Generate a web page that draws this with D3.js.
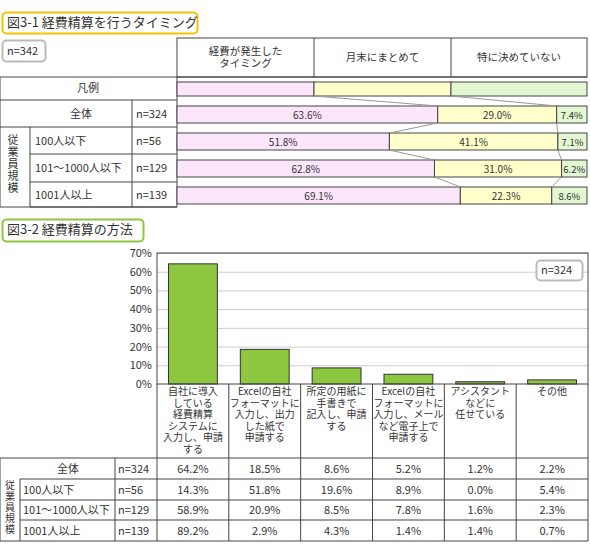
<!DOCTYPE html>
<html><head><meta charset="utf-8">
<script src="https://cdnjs.cloudflare.com/ajax/libs/d3/7.8.5/d3.min.js"></script>
<style>body{margin:0;background:#fff}text{font-family:"Noto Sans CJK JP",sans-serif;fill:#333}</style>
</head><body><svg id="c" width="590" height="547"></svg>
<script>
'use strict';
// fig 3-1
var timingCats = ['経費が発生した|タイミング', '月末にまとめて', '特に決めていない'];
var timingRows = ['全体', '100人以下', '101～1000人以下', '1001人以上'];
var timingN = ['n=324', 'n=56', 'n=129', 'n=139'];
var timingVals = [[63.6, 29.0, 7.4], [51.8, 41.1, 7.1], [62.8, 31.0, 6.2], [69.1, 22.3, 8.6]];
var timingColors = ['#fce6fc', '#ffffcc', '#e2f7d2'];
// fig 3-2
var methodCats = ['自社に導入|している|経費精算|システムに|入力し、申請|する',
  'Excelの自社|フォーマットに|入力し、出力|した紙で|申請する',
  '所定の用紙に|手書きで|記入し、申請|する',
  'Excelの自社|フォーマットに|入力し、メール|など電子上で|申請する',
  'アシスタント|などに|任せている', 'その他'];
var methodRows = ['全体', '100人以下', '101～1000人以下', '1001人以上'];
var methodN = ['n=324', 'n=56', 'n=129', 'n=139'];
var methodVals = [[64.2, 18.5, 8.6, 5.2, 1.2, 2.2], [14.3, 51.8, 19.6, 8.9, 0.0, 5.4],
  [58.9, 20.9, 8.5, 7.8, 1.6, 2.3], [89.2, 2.9, 4.3, 1.4, 1.4, 0.7]];
var yTicks = [0, 10, 20, 30, 40, 50, 60, 70];

var svg = d3.select('#c');
var line = function(x1, y1, x2, y2, c) {
  svg.append('line').attr('x1', x1).attr('y1', y1).attr('x2', x2).attr('y2', y2)
    .attr('stroke', c || '#444').attr('stroke-width', 1);
};
var txt = function(x, y, s, size, anchor) {
  return svg.append('text').attr('x', x).attr('y', y).attr('font-size', size || 11)
    .attr('text-anchor', anchor || 'middle').text(s);
};
var box = function(x, y, w, h, stroke, s, size) {
  svg.append('rect').attr('x', x + 0.5).attr('y', y + 0.5).attr('width', w).attr('height', h)
    .attr('rx', 4).attr('fill', '#fff').attr('stroke', stroke).attr('stroke-width', 2);
  txt(x + 5, y + h / 2 + 4, s, size || 12, 'start');
};
var vtext = function(x, y, s, step, size) {
  s.split('').forEach((ch, i) => txt(x, y + i * step, ch, size));
};

// ---- top chart
box(2, 12, 195, 21, '#f5c400', '図3-1 経費精算を行うタイミング', 13);
box(2, 40, 43, 21, '#bbb', 'n=342', 11);

var x0 = 177, x1 = 587;
var xs = d3.scaleLinear().domain([0, 100]).range([x0, x1]);
var hdrX = [177, 314, 451, 587];
svg.append('rect').attr('x', x0).attr('y', 38).attr('width', x1 - x0).attr('height', 39)
  .attr('fill', 'none').attr('stroke', '#444');
timingCats.forEach((c, i) => {
  if (i > 0) line(hdrX[i], 38, hdrX[i], 77);
  var parts = c.split('|');
  parts.forEach((p, j) => txt((hdrX[i] + hdrX[i + 1]) / 2, 57 + (j - (parts.length - 1) / 2) * 12 + 4, p, 10.5));
});
// left table
var rowY = [100, 127, 154, 182, 207];
line(0, 77, 587, 77);
line(0, 100, 177, 100);
line(0, 77, 0, 207); line(177, 77, 177, 207);
txt(88, 92, '凡例', 11);
for (var i = 0; i < 4; i++) {
  line(i === 0 ? 0 : 30, rowY[i + 1], 177, rowY[i + 1]);
  var cy = (rowY[i] + rowY[i + 1]) / 2 + 4;
  if (i === 0) txt(81, cy, timingRows[i], 11);
  else txt(35, cy, timingRows[i], 11, 'start');
  txt(136, cy, timingN[i], 11, 'start');
}
line(0, 207, 177, 207);
line(30, 127, 30, 207); line(132, 100, 132, 207);
vtext(13, 144, '従業員規模', 12, 11);

// legend bar
var legY = 82, legH = 14;
timingColors.forEach((c, i) => {
  svg.append('rect').attr('x', hdrX[i]).attr('y', legY).attr('width', hdrX[i + 1] - hdrX[i])
    .attr('height', legH).attr('fill', c).attr('stroke', '#444');
});
// data bars
var barY = [106, 133, 160, 187], barH = 17;
var bounds = [[hdrX[1], hdrX[2]]];
timingVals.forEach((v, r) => {
  var acc = 0, b = [];
  v.forEach((d, k) => {
    var a = xs(acc), e = xs(acc + d);
    svg.append('rect').attr('x', a).attr('y', barY[r]).attr('width', e - a).attr('height', barH)
      .attr('fill', timingColors[k]).attr('stroke', '#444');
    txt((a + e) / 2, barY[r] + barH / 2 + 4, d.toFixed(1) + '%', k === 2 ? 9.5 : 10);
    acc += d;
    if (k < 2) b.push(e);
  });
  bounds.push(b);
});
var topsY = [legY + legH].concat(barY.map(y => y + barH));
for (var r = 0; r < 4; r++) {
  for (var k = 0; k < 2; k++) line(bounds[r][k], topsY[r], bounds[r + 1][k], barY[r], '#999');
}

// ---- bottom chart
box(2, 219, 141, 22, '#8dc63f', '図3-2 経費精算の方法', 13);
var px0 = 157, px1 = 588, py0 = 384, py1 = 253;
var y = d3.scaleLinear().domain([0, 70]).range([py0, py1]);
var xb = d3.scaleBand().domain(d3.range(methodCats.length)).range([px0, px1]).paddingInner(0.32).paddingOuter(0.16);
var colW = (px1 - px0) / methodCats.length;
var cols = d3.range(methodCats.length + 1).map(i => px0 + i * colW);
svg.append('g').selectAll('line').data(yTicks.slice(1)).enter().append('line')
  .attr('x1', px0).attr('x2', px1).attr('y1', d => y(d) + 0.5).attr('y2', d => y(d) + 0.5)
  .attr('stroke', '#ccc');
var ax = svg.append('g').attr('transform', 'translate(' + px0 + ',0)')
  .call(d3.axisLeft(y).tickValues(yTicks).tickSize(0).tickPadding(5).tickFormat(d => d + '%'));
ax.select('.domain').remove();
ax.selectAll('text').attr('font-size', 11).style('font-family', '"Noto Sans CJK JP",sans-serif').attr('fill', '#333');
svg.selectAll('.bar').data(methodVals[0]).enter().append('rect')
  .attr('x', (d, i) => xb(i)).attr('width', xb.bandwidth())
  .attr('y', d => y(d)).attr('height', d => py0 - y(d))
  .attr('fill', '#8dc63f').attr('stroke', '#333');
svg.append('rect').attr('x', px0).attr('y', py1).attr('width', px1 - px0).attr('height', py0 - py1)
  .attr('fill', 'none').attr('stroke', '#444');
box(536, 260, 46, 20, '#bbb', 'n=324', 11);

// labels + table
var tRows = [458, 479, 500, 520, 541];
methodCats.forEach((c, i) => {
  c.split('|').forEach((p, j) => txt((cols[i] + cols[i + 1]) / 2, 395 + j * 11.5, p, 10));
});
cols.forEach(cx => line(cx, py0, cx, tRows[4]));
line(0, tRows[0], px1, tRows[0]);
for (var r = 0; r < 4; r++) {
  line(r === 3 ? 0 : 20, tRows[r + 1], px1, tRows[r + 1]);
  var cy2 = (tRows[r] + tRows[r + 1]) / 2 + 4;
  if (r === 0) txt(68, cy2, methodRows[r], 11);
  else txt(23, cy2, methodRows[r], 11, 'start');
  txt(118, cy2, methodN[r], 11, 'start');
  methodVals[r].forEach((v, k) => txt((cols[k] + cols[k + 1]) / 2, cy2, v.toFixed(1) + '%', 11));
}
line(0, tRows[0], 0, tRows[4]); line(20, tRows[1], 20, tRows[4]); line(115, tRows[0], 115, tRows[4]);
vtext(10, 489, '従業員規模', 11, 10);
</script></body></html>
